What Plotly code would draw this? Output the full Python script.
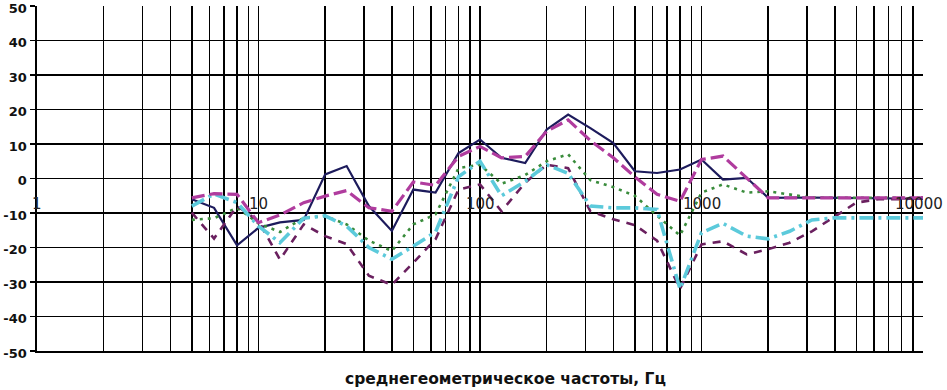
import plotly.graph_objects as go
import math

freqs = [5, 6.3, 8, 10, 12.5, 16, 20, 25, 31.5, 40, 50, 63, 80, 100, 125, 160,
         200, 250, 315, 400, 500, 630, 800, 1000, 1250, 1600, 2000, 2500, 3150,
         4000, 5000, 6300, 8000, 10000]

navy = [-6, -8.5, -19.4, -14.3, -12.7, -12, 1.2, 3.6, -8, -15.2, -3.2, -4.1, 7.4,
        11.3, 6, 4.5, 14.2, 18.5, 14.6, 10.3, 2.1, 1.6, 2.6, 5.5, -0.3, 0.2, -5.6,
        -5.5, -5.5, -5.6, -5.6, -5.7, -5.8, -5.9]
magenta = [-5.6, -4.4, -4.6, -12.8, -10.6, -7, -5.1, -3.5, -8.5, -9.5, -1, -2, 6.4,
           9.3, 6, 6.4, 13.7, 17, 11, 6, 0.5, -4.6, -6.6, 5.5, 6.5, 0, -5.6,
           -5.6, -5.6, -5.6, -5.6, -5.6, -5.6, -5.6]
plum = [-9.9, -17.4, -8, -12.3, -23.5, -13.3, -16.7, -19, -28.2, -30.8, -24.4, -17.6,
        -3.2, -1.7, -9.5, -1.2, 4, 3, -9.5, -11.8, -13.5, -18, -32, -19.1, -18.2,
        -22, -20.5, -18.6, -15.3, -11, -7, -6, -6, -5.5]
green = [-12, -11.5, -8.5, -13, -15.5, -11.4, -10.9, -13.3, -18, -21, -13.3, -10.4,
         3, 4, -1.5, 1, 5, 7, -0.5, -2.5, -5, -10.8, -16.5, -4.1, -1.7, -4.1, -3.7,
         -4.6, -5.6, -5.6, -5.6, -5.6, -5.6, -5.6]
cyan = [-8, -4.5, -7, -13.8, -18.6, -11.5, -10.8, -13.8, -20, -23.4, -19.6, -15.5,
        0.5, 5, -5, -0.8, 4, 1.5, -8, -8.5, -8.5, -9, -32, -15.7, -13, -16.7, -17.5,
        -15.3, -12, -11.4, -11.4, -11.4, -11.4, -11.4]

y_ticks = [-50, -40, -30, -20, -10, 0, 10, 20, 30, 40, 50]
y_tick_text = ["-50", "-40", "-30", "-20", "-10", "0", "10", "20", "30", "40", "50"]
x_labels = ["1", "10", "100", "1000", "10000"]
x_label_vals = [1, 10, 100, 1000, 10000]
x_title = "среднегеометрическое частоты, Гц"

series = [
    (navy, "#1d1b5c", 2.2, "solid"),
    (green, "#3a8c3c", 2.6, "3px,5px"),
    (plum, "#6a205f", 2.6, "8px,7px"),
    (cyan, "#5ccadb", 3.6, "14px,5px,3px,5px"),
    (magenta, "#b03c9e", 3.2, "13px,5px"),
]

fig = go.Figure()
for vals, col, w, dash in series:
    fig.add_trace(go.Scatter(x=freqs, y=vals, mode="lines",
                             line=dict(color=col, width=w, dash=dash),
                             showlegend=False, hoverinfo="skip"))

grid_vals = [d * 10 ** k for k in range(4) for d in range(1, 10)] + [10000]

fig.update_xaxes(type="log", range=[0, 4], tickvals=grid_vals, showticklabels=False,
                 showgrid=True, gridcolor="#000", gridwidth=1.6, automargin=False,
                 showline=True, linecolor="#000", linewidth=1.6, ticks="", zeroline=False)
fig.update_yaxes(range=[-50, 50], tickvals=y_ticks, ticktext=y_tick_text,
                 showgrid=True, gridcolor="#000", gridwidth=1.6,
                 zeroline=False, showline=True, linecolor="#000", linewidth=1.6,
                 ticks="outside", ticklen=5, tickcolor="#000", tickwidth=1.6, automargin=False,
                 ticklabeloverflow="allow", ticklabelstandoff=1, ticklabelshift=2,
                 tickfont=dict(family="DejaVu Sans", size=13, color="#111", weight=700))

for lab, v in zip(x_labels, x_label_vals):
    fig.add_annotation(x=math.log10(v), y=-7.5, text=lab, showarrow=False,
                       xanchor="center", yanchor="middle",
                       xshift=(-4 if v == 10000 else 0),
                       font=dict(family="DejaVu Sans", size=15, color="#222"))

fig.add_annotation(x=0.529, y=-0.081, xref="paper", yref="paper", text=x_title,
                   showarrow=False, xanchor="center", yanchor="middle",
                   font=dict(family="DejaVu Sans", size=15.5, color="#111", weight=700))

fig.update_layout(width=947, height=390, margin=dict(l=37, r=24, t=6, b=39, autoexpand=False),
                  plot_bgcolor="white", paper_bgcolor="white")

fig.write_html("out.html", config={"displayModeBar": False, "staticPlot": True},
               post_script="document.body.style.margin='0px';")
